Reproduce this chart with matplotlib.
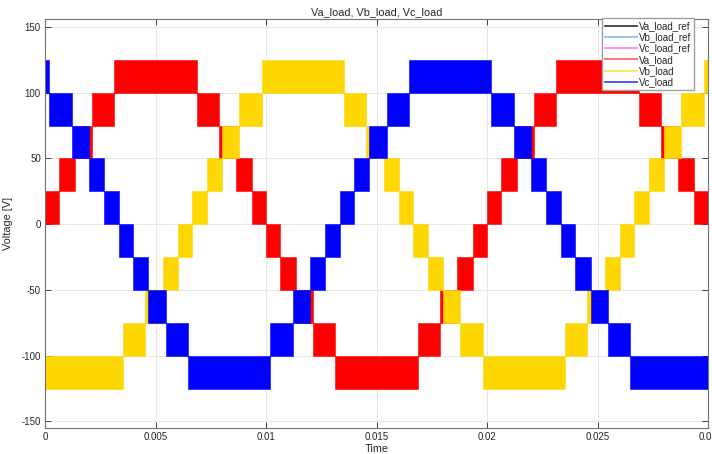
import numpy as np
import matplotlib
matplotlib.use("Agg")
import matplotlib.pyplot as plt
from matplotlib.lines import Line2D

plt.rcParams["font.family"] = ["Liberation Sans", "DejaVu Sans"]
plt.rcParams["axes.unicode_minus"] = False

# One period of Va_load: switching-band edges [s] and lower level of each band [V]
va_edges = [0.0, 0.00065, 0.00135, 0.00212, 0.00314, 0.00686, 0.00788, 0.00865,
            0.00935, 0.0100, 0.01065, 0.01135, 0.01212, 0.01314, 0.01686,
            0.01788, 0.01865, 0.01935, 0.0200]
va_lows = [0, 25, 50, 75, 100, 75, 50, 25, 0, -25, -50, -75, -100, -125,
           -100, -75, -50, -25]
band_height = 25
period = 0.02

# Phase delays [s] for Va, Vb, Vc
phase_names = ["Va_load", "Vb_load", "Vc_load"]
phase_delays = [0.0, 0.006667, 0.013333]
phase_colors = ["#ff0000", "#ffd700", "#0000ff"]
legend_load_colors = ["#ff6464", "#ffe066", "#4646ff"]

ref_names = ["Va_load_ref", "Vb_load_ref", "Vc_load_ref"]
ref_colors = ["#404040", "#88c4ea", "#ff88ff"]

fig = plt.figure(figsize=(7.12, 4.54), dpi=100)
ax = fig.add_axes([0.0632, 0.0573, 0.9312, 0.9007])

for delay, color in zip(phase_delays, phase_colors):
    t = []
    lo = []
    for k in range(-1, 3):
        t.extend(np.array(va_edges[:-1]) + delay + (k - 1) * period)
        lo.extend(va_lows)
    t = np.array(t)
    lo = np.array(lo, dtype=float)
    order = np.argsort(t)
    t, lo = t[order], lo[order]
    t = np.append(t, t[-1] + 0.001)
    lo = np.append(lo, lo[-1])
    ax.fill_between(t, lo, lo + band_height, step="post", color=color,
                    edgecolor=color, linewidth=0.4)

ax.set_xlim(0, 0.03)
ax.set_ylim(-155, 156)
ax.set_xticks([0, 0.005, 0.01, 0.015, 0.02, 0.025, 0.03])
ax.set_xticklabels(["0", "0.005", "0.01", "0.015", "0.02", "0.025", "0.03"])
ax.set_yticks([-150, -100, -50, 0, 50, 100, 150])
ax.grid(True, color="#e3e3e3", linewidth=0.6)
ax.set_axisbelow(True)
ax.tick_params(direction="in", top=True, right=True, length=4, width=0.6,
               labelsize=7, colors="#262626", pad=3)
for s in ax.spines.values():
    s.set_color("#707070")
    s.set_linewidth(0.8)

ax.set_title("Va_load, Vb_load, Vc_load", fontsize=7.8, color="#262626", pad=3)
ax.set_xlabel("Time", fontsize=7.8, color="#262626", labelpad=1)
ax.set_ylabel("Voltage [V]", fontsize=7.8, color="#262626", labelpad=6)

handles = [Line2D([], [], color=c, lw=1.3) for c in ref_colors]
handles += [Line2D([], [], color=c, lw=1.3) for c in legend_load_colors]
leg = ax.legend(handles, ref_names + phase_names, loc="upper right",
                bbox_to_anchor=(694 / 712, 1 - 18 / 454),
                bbox_transform=fig.transFigure,
                fontsize=7, frameon=True, fancybox=False, framealpha=1,
                edgecolor="#a0a0a0", handlelength=3.3, handletextpad=0.2,
                labelspacing=0.13, borderpad=0.3, borderaxespad=0)
leg.get_frame().set_linewidth(1.0)
for txt in leg.get_texts():
    txt.set_color("#262626")

fig.savefig("out.png", dpi=100)
